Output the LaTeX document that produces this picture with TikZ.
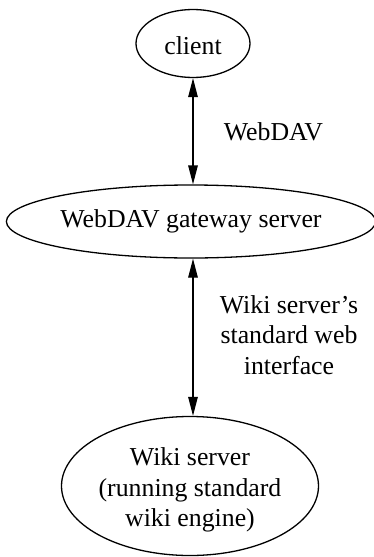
\documentclass[tikz,border=0pt]{standalone}
\usepackage{fontspec}
\setmainfont{Liberation Serif}
\usetikzlibrary{arrows.meta,shapes.geometric}
\begin{document}
\begin{tikzpicture}[x=1pt,y=-1pt,
  every node/.style={font=\fontsize{25.8}{30.5}\selectfont, inner sep=0pt},
  oval/.style={draw, ellipse, line width=1.3pt},
  link/.style={line width=1.3pt, {Triangle[length=19pt,width=9.5pt]}-{Triangle[length=19pt,width=9.5pt]}},
  lbl/.style={align=center}]
\useasboundingbox (0,0) rectangle (374,557);
\node[oval, minimum width=114pt, minimum height=68pt, text height=21pt, text depth=0pt] (client) at (193,43.5) {client};
\node[oval, minimum width=362pt, minimum height=73pt] (gw) at (191,221.5) {WebDAV gateway server};
\node[oval, minimum width=257pt, minimum height=139pt,
  label={[align=center, yshift=-4pt]center:{Wiki server\\(running standard\\wiki engine)}}] (wiki) at (190,486) {};
\draw[link] (client.south) -- (client.south |- gw.north);
\draw[link] (client.south |- gw.south) -- (client.south |- wiki.north);
\node[lbl] (l1) at (273.5,132) {WebDAV};
\node[lbl] (l2) at (289,335) {Wiki server’s\\standard web\\interface};
\end{tikzpicture}
\end{document}
